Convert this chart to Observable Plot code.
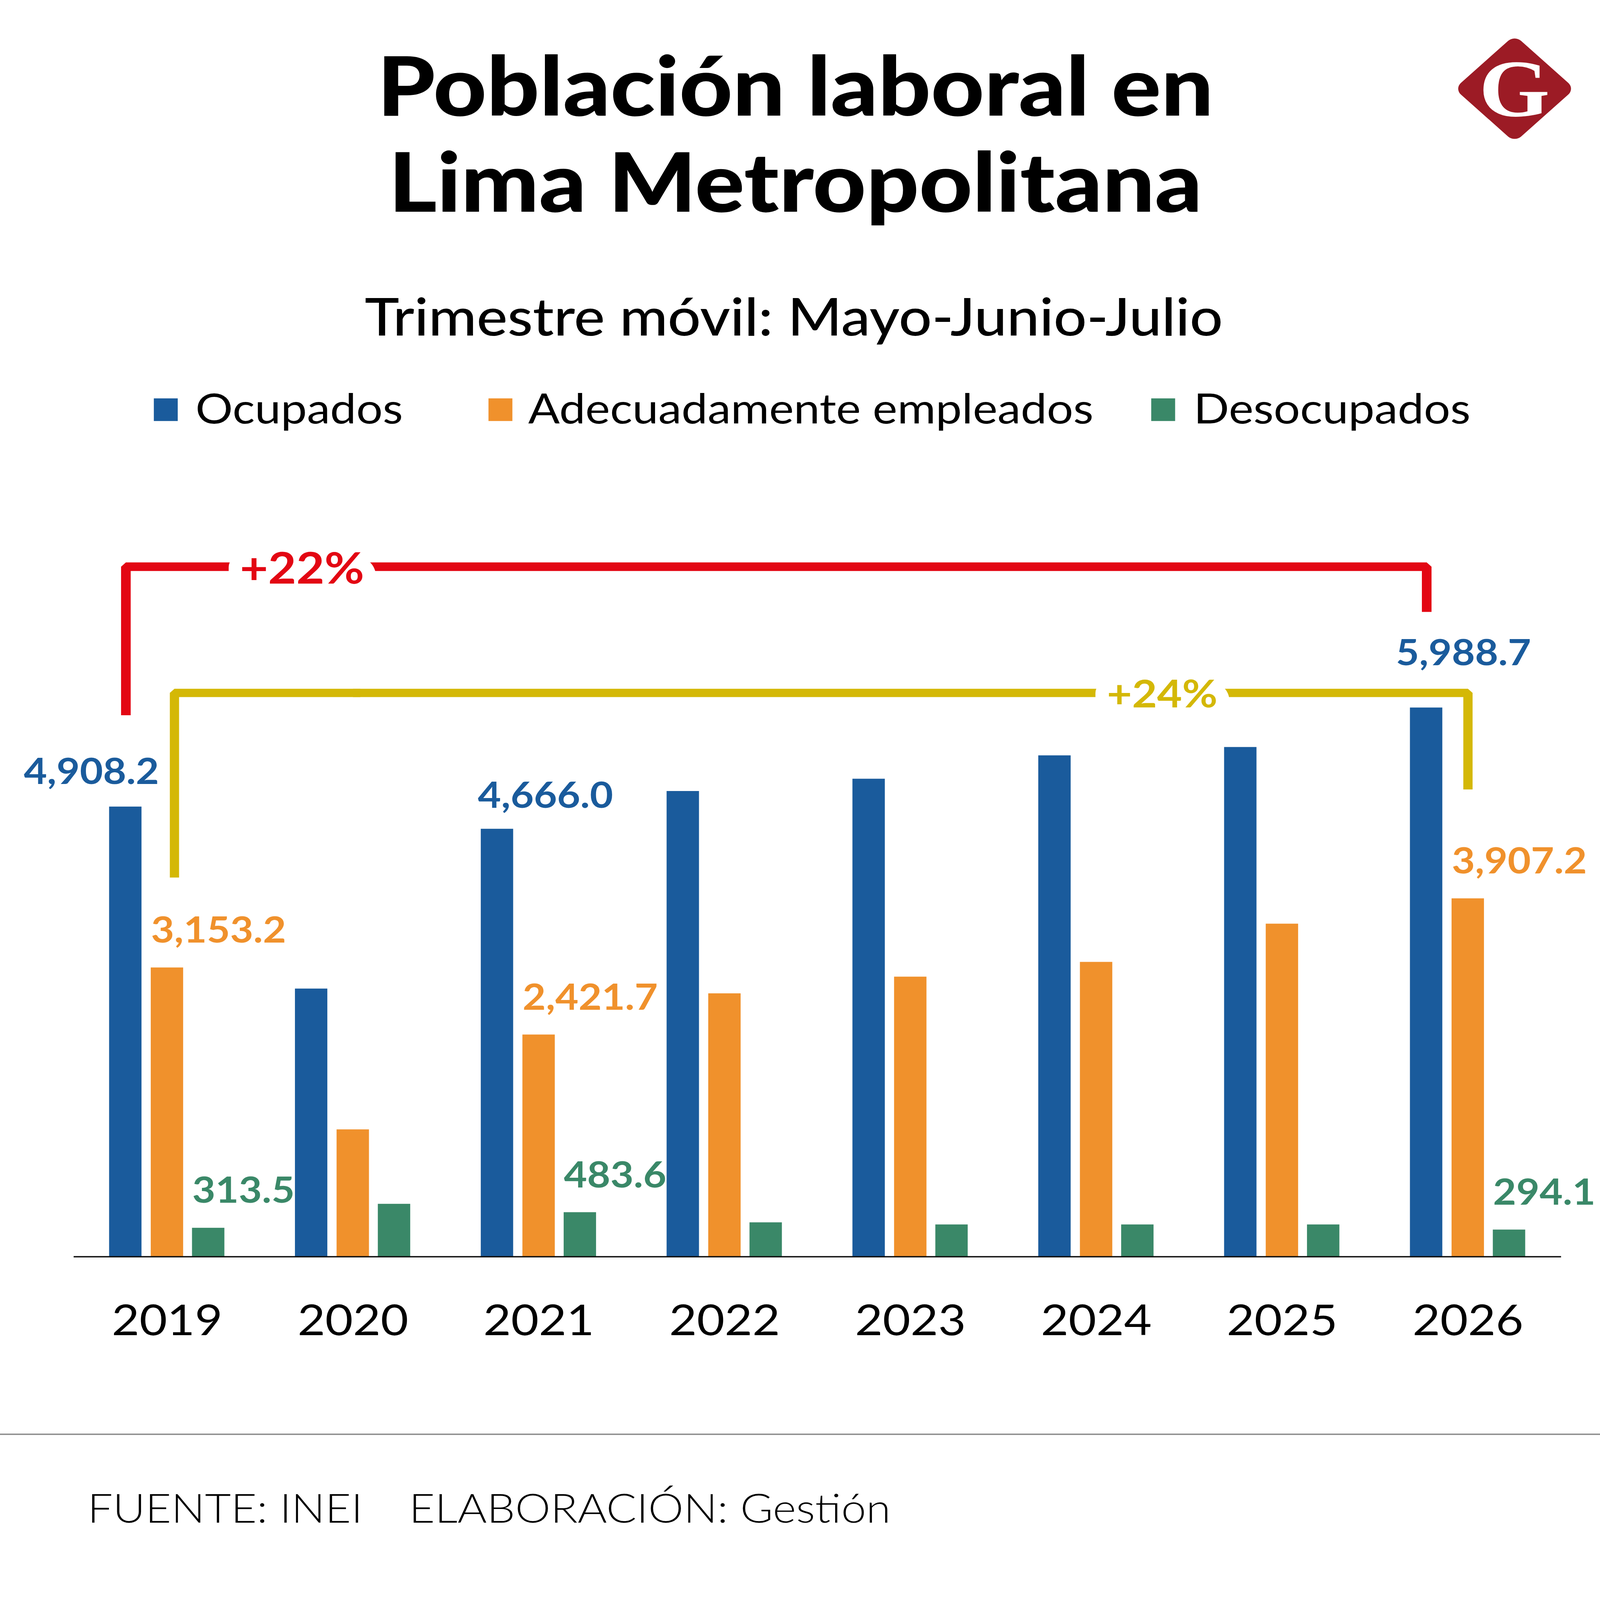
<!DOCTYPE html>
<html>
<head>
<meta charset="utf-8">
<script src="https://cdn.jsdelivr.net/npm/d3@7"></script>
<script src="https://cdn.jsdelivr.net/npm/@observablehq/plot@0.6"></script>
<style>
  html, body { margin: 0; padding: 0; background: #fff; overflow: hidden; }
  #page { position: relative; width: 4150px; height: 4663px; overflow: hidden; background: #fff; font-family: Lato, "Noto Sans", sans-serif; color: #000; transform-origin: 0 0; }
  .abs { position: absolute; white-space: nowrap; line-height: 1; }
  .title { left: 0; width: 4126px; text-align: center; font-weight: 900; font-size: 240px; }
  .subtitle { left: 0; width: 4118px; text-align: center; font-weight: 500; font-size: 151px; }
  .leg-sq { position: absolute; width: 62px; height: 66px; }
  .leg-tx { font-size: 121px; font-weight: 400; }
  .footer { left: 227px; font-size: 116px; font-weight: 300; }
  #logo { position: absolute; left: 3818px; top: 148px; width: 221px; height: 221px; background: #9c1b25; border-radius: 24px; transform: rotate(45deg); }
  #logoG { position: absolute; left: 3778px; top: 100px; width: 300px; height: 318px; display: flex; align-items: center; justify-content: center; font-family: "Liberation Serif", "DejaVu Serif", serif; font-weight: 700; font-size: 236px; color: #fff; line-height: 1; }
  #chart { position: absolute; left: 0; top: 1400px; }
  #sep { position: absolute; left: 0; top: 4178px; width: 4150px; height: 4px; background: #8c8c8c; }
</style>
</head>
<body>
<div id="page">
  <div class="abs title" style="top:124px">Población laboral en</div>
  <div class="abs title" style="top:404px">Lima Metropolitana</div>
  <div id="logo"></div>
  <div id="logoG">G</div>
  <div class="abs subtitle" style="top:844px">Trimestre móvil: Mayo-Junio-Julio</div>
  <div id="legend"></div>
  <div id="chart"></div>
  <div id="sep"></div>
  <div class="abs footer" style="top:4336px">FUENTE: INEI<span style="display:inline-block;width:120px"></span>ELABORACIÓN: Gestión</div>
</div>
<script>
// ---- data ----
const years = [2019, 2020, 2021, 2022, 2023, 2024, 2025, 2026];
const series = ["Ocupados", "Adecuadamente empleados", "Desocupados"];
const ocupados    = [4908.2, 2923, 4666.0, 5078, 5212, 5467, 5558, 5988.7];
const adecuados   = [3153.2, 1387, 2421.7, 2871, 3053, 3214, 3631, 3907.2];
const desocupados = [313.5, 575, 483.6, 373, 350, 350, 350, 294.1];
const labeledYears = [2019, 2021, 2026];
const colors = ["#1a5b9c", "#f0912c", "#3a8868"];

const values = [ocupados, adecuados, desocupados];
const table = years.flatMap((year, i) => series.map((serie, j) => ({year, serie, value: values[j][i]})));
const fmt = d3.format(",.1f");

// fit the 4150x4663 page into the actual window
function fit() {
  const page = document.getElementById("page");
  const sx = window.innerWidth / 4150, sy = window.innerHeight / 4663;
  page.style.transform = `scale(${sx}, ${sy})`;
}
fit();
window.addEventListener("resize", fit);

// ---- legend (HTML, above the SVG) ----
const legendPos = [[399, 507], [1267, 1370], [2986, 3096]];
const legend = document.getElementById("legend");
series.forEach((s, j) => {
  const sq = document.createElement("div");
  sq.className = "leg-sq";
  sq.style.left = legendPos[j][0] + "px";
  sq.style.top = "1161px";
  sq.style.background = colors[j];
  legend.appendChild(sq);
  const tx = document.createElement("div");
  tx.className = "abs leg-tx";
  tx.style.left = legendPos[j][1] + "px";
  tx.style.top = "1127px";
  tx.textContent = s;
  legend.appendChild(tx);
});

// ---- chart ----
const offsets = [-108, 0, 107];   // pixel offset of each series inside a year group
const half = 42;                   // half bar width
const marks = [];

series.forEach((s, j) => {
  marks.push(Plot.barY(table.filter(d => d.serie === s), {
    x: "year", y: "value", fill: colors[j], dx: offsets[j]
  }));
});

marks.push(Plot.ruleY([0], {stroke: "#111", strokeWidth: 4}));

// value labels
series.forEach((s, j) => {
  const rows = table.filter(d => d.serie === s && labeledYears.includes(d.year));
  const base = {x: "year", y: "value", text: d => fmt(d.value), fill: colors[j],
    lineAnchor: "bottom", fontSize: 104, fontWeight: 700, fontFamily: "Lato"};
  if (j === 0) {
    marks.push(Plot.text(rows.filter(d => d.year === years[0]), {...base, textAnchor: "end", dx: offsets[0] + half + 45, dy: -66}));
    marks.push(Plot.text(rows.filter(d => d.year !== years[0] && d.year !== years[years.length - 1]), {...base, textAnchor: "start", dx: offsets[0] - half - 8, dy: -62}));
    marks.push(Plot.text(rows.filter(d => d.year === years[years.length - 1]), {...base, textAnchor: "start", dx: offsets[0] - half - 37, dy: -124}));
  } else {
    marks.push(Plot.text(rows, {...base, textAnchor: "start", dx: offsets[j] - half, dy: -73}));
  }
});

// comparison brackets
const redTop = 7527, yellowTop = 6150;
const red = [
  {year: years[0], v: ocupados[0] + 998},
  {year: years[0], v: redTop},
  {year: years[7], v: redTop},
  {year: years[7], v: ocupados[7] + 1045}
];
const yellowA = [
  {year: years[0], v: adecuados[0] + 983},
  {year: years[0], v: yellowTop},
  {year: years[1], v: yellowTop}
];
const yellowB = [
  {year: years[1], v: yellowTop},
  {year: years[7], v: yellowTop},
  {year: years[7], v: adecuados[7] + 1190}
];
const lineOpts = {x: "year", y: "v", strokeLinejoin: "miter", strokeLinecap: "butt"};
marks.push(Plot.line(red, {...lineOpts, stroke: "#e30613", strokeWidth: 25, dx: offsets[0] + 1}));
marks.push(Plot.line(yellowA, {...lineOpts, stroke: "#d4b806", strokeWidth: 24, dx: 19}));
marks.push(Plot.line(yellowB, {...lineOpts, stroke: "#d4b806", strokeWidth: 24, dx: 0}));

const pctRed = [{year: years[1], v: redTop, t: "+22%"}];
const pctYellow = [{year: years[5], v: yellowTop, t: "+24%"}];
const pctBase = {x: "year", y: "v", text: "t", lineAnchor: "bottom", fontWeight: 700, fontFamily: "Lato"};
marks.push(Plot.text(pctRed, {...pctBase, dx: -132, dy: 49, fontSize: 126, fill: "white", stroke: "white", strokeWidth: 70}));
marks.push(Plot.text(pctRed, {...pctBase, dx: -132, dy: 49, fontSize: 126, fill: "#e30613"}));
marks.push(Plot.text(pctYellow, {...pctBase, dx: 171, dy: 42, fontSize: 112, fill: "white", stroke: "white", strokeWidth: 70}));
marks.push(Plot.text(pctYellow, {...pctBase, dx: 171, dy: 42, fontSize: 112, fill: "#d4b806"}));

// year labels
marks.push(Plot.text(years, {x: d => d, text: d => String(d), frameAnchor: "bottom", lineAnchor: "bottom",
  dy: 229, fontSize: 124, fontWeight: 400, fill: "#000", fontFamily: "Lato"}));

const chart = Plot.plot({
  width: 4150,
  height: 2700,
  marginLeft: 191,
  marginRight: 101,
  marginTop: 231.5,
  marginBottom: 438,
  style: {fontFamily: "Lato", background: "white", overflow: "visible"},
  x: {type: "band", domain: years, paddingInner: 0.826, paddingOuter: 0.412, axis: null},
  y: {domain: [0, 7600], axis: null},
  marks
});
document.getElementById("chart").appendChild(chart);
</script>
</body>
</html>
